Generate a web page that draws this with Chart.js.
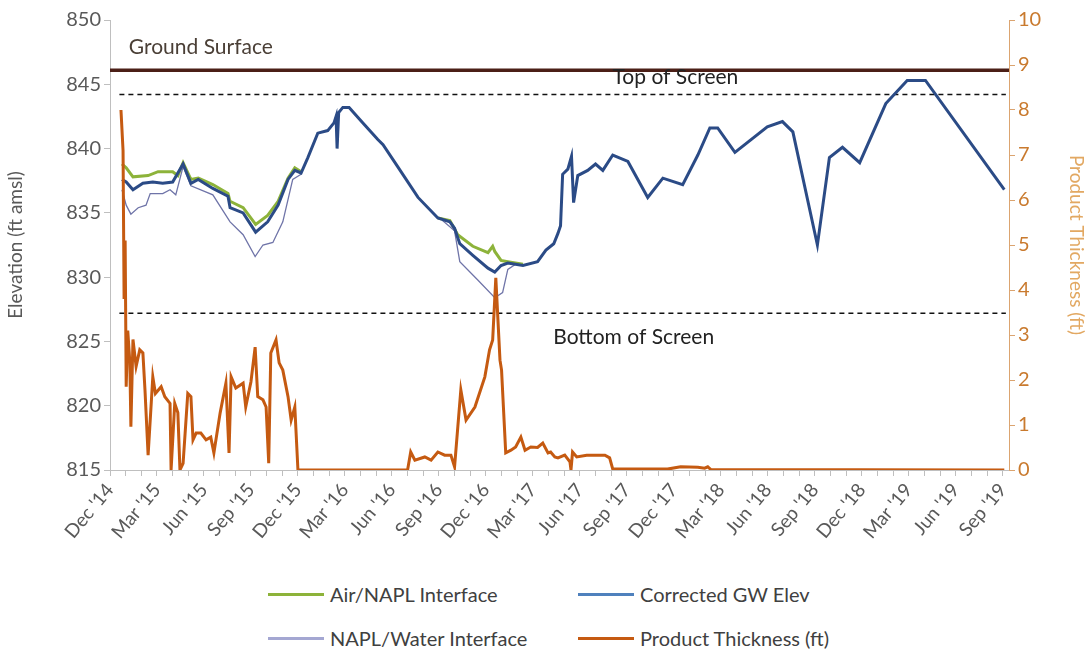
<!DOCTYPE html>
<html>
<head>
<meta charset="utf-8">
<script src="https://cdn.jsdelivr.net/npm/chart.js@4.4.1/dist/chart.umd.min.js"></script>
<style>
	body { margin: 0; background: #fff; }
	#quadro { position: relative; width: 1092px; height: 658px; font-family: Lato, "Open Sans", sans-serif; }
	#legenda { position: absolute; left: 268px; top: 572px; display: grid; grid-template-columns: 310px auto; grid-auto-rows: 44px; color: #404040; font-size: 20px; }
	#legenda div { display: flex; align-items: center; white-space: nowrap; }
	#legenda span.linha { display: inline-block; width: 56px; height: 3px; margin-right: 6px; }
</style>
</head>
<body>
<div id="quadro">
	<canvas id="graficoPocoNapl" width="1092" height="565"></canvas>
	<div id="legenda"></div>
</div>
<script>
// rotulos do eixo x (a cada 3 meses, a partir de dez/2014)
var rotulosX = ["Dec '14", "Mar '15", "Jun '15", "Sep '15", "Dec '15", "Mar '16", "Jun '16", "Sep '16", "Dec '16", "Mar '17",
	"Jun '17", "Sep '17", "Dec '17", "Mar '18", "Jun '18", "Sep '18", "Dec '18", "Mar '19", "Jun '19", "Sep '19"];

// niveis de referencia (ft amsl)
var superficieTerreno = 846.1;
var topoFiltro = 844.2;
var baseFiltro = 827.2;

// Corrected GW Elev
var gwDatas = ['2014-12-24', '2015-01-02', '2015-01-15', '2015-02-04', '2015-02-23', '2015-03-12', '2015-04-01', '2015-04-21',
	'2015-05-06', '2015-05-20', '2015-06-18', '2015-07-17', '2015-07-21', '2015-08-16', '2015-09-10', '2015-10-03', '2015-10-23',
	'2015-11-12', '2015-11-25', '2015-12-07', '2015-12-20', '2016-01-09', '2016-01-28', '2016-02-10', '2016-02-14', '2016-02-16',
	'2016-02-19', '2016-02-27', '2016-03-09', '2016-04-05', '2016-05-04', '2016-05-14', '2016-06-12', '2016-07-21', '2016-08-29',
	'2016-09-22', '2016-10-01', '2016-10-11', '2016-11-06', '2016-12-05', '2016-12-18', '2016-12-30', '2017-01-13', '2017-02-12',
	'2017-03-10', '2017-03-26', '2017-04-11', '2017-04-19', '2017-04-24', '2017-04-28', '2017-05-08', '2017-05-15', '2017-05-19',
	'2017-05-27', '2017-06-16', '2017-07-01', '2017-07-15', '2017-08-04', '2017-09-03', '2017-10-11', '2017-11-10', '2017-12-18',
	'2018-01-17', '2018-02-10', '2018-02-25', '2018-03-28', '2018-05-30', '2018-06-29', '2018-07-19', '2018-09-06', '2018-09-29',
	'2018-10-24', '2018-11-27', '2019-01-17', '2019-02-28', '2019-04-03', '2019-09-04'];
var gwElev = [837.6, 837.4, 836.8, 837.3, 837.4, 837.3, 837.4, 838.8,
	837.3, 837.6, 836.9, 836.3, 835.4, 835.0, 833.5, 834.3, 835.6,
	837.6, 838.3, 838.1, 839.3, 841.2, 841.4, 842.0, 842.5, 840.0,
	842.8, 843.2, 843.2, 842.0, 840.7, 840.3, 838.6, 836.2, 834.6,
	834.3, 833.8, 832.6, 831.7, 830.7, 830.4, 830.9, 831.1, 830.9,
	831.2, 832.1, 832.6, 833.4, 834.0, 838.0, 838.4, 839.4, 835.8,
	837.9, 838.3, 838.8, 838.3, 839.5, 839.0, 836.2, 837.7, 837.2,
	839.5, 841.6, 841.6, 839.7, 841.7, 842.1, 841.3, 832.5, 839.3,
	840.1, 838.9, 843.5, 845.3, 845.3, 836.8];

// Air/NAPL Interface (null = sem produto)
var arDatas = ['2014-12-24', '2015-01-02', '2015-01-15', '2015-02-14', '2015-03-03', '2015-04-01', '2015-04-11', '2015-04-21',
	'2015-05-06', '2015-05-20', '2015-06-18', '2015-07-17', '2015-07-21', '2015-08-16', '2015-09-10', '2015-10-03', '2015-10-23',
	'2015-11-12', '2015-11-25', '2015-12-07', '2016-03-01', '2016-08-29', '2016-09-22', '2016-10-07', '2016-11-06', '2016-12-05',
	'2016-12-14', '2016-12-18', '2016-12-30', '2017-01-13', '2017-02-12'];
var arElev = [838.8, 838.5, 837.8, 837.9, 838.2, 838.2, 837.9, 838.9,
	837.6, 837.7, 837.2, 836.5, 835.9, 835.4, 834.1, 834.8, 835.9,
	837.7, 838.5, 838.2, null, 834.6, 834.4, 833.3, 832.4, 831.9,
	832.4, 832.0, 831.3, 831.2, 831.0];

// NAPL/Water Interface
var aguaDatas = ['2014-12-24', '2015-01-02', '2015-01-11', '2015-01-25', '2015-02-10', '2015-02-18', '2015-03-12', '2015-03-26',
	'2015-04-07', '2015-04-21', '2015-05-06', '2015-06-18', '2015-07-21', '2015-08-16', '2015-09-09', '2015-09-24', '2015-10-13',
	'2015-11-02', '2015-11-21', '2015-12-07', '2016-03-01', '2016-09-08', '2016-10-01', '2016-10-11', '2016-11-15', '2016-12-18',
	'2017-01-03', '2017-01-13', '2017-01-28'];
var aguaElev = [836.8, 835.6, 834.9, 835.4, 835.6, 836.5, 836.5, 836.8,
	836.4, 838.6, 837.1, 836.4, 834.3, 833.3, 831.6, 832.5, 832.7,
	834.3, 837.6, 838.0, null, 834.4, 833.6, 831.2, 829.8, 828.4,
	828.8, 830.6, 831.0];

// Product Thickness (ft)
var ptDatas = ['2014-12-22', '2014-12-26', '2014-12-28', '2014-12-30', '2015-01-02', '2015-01-05', '2015-01-09', '2015-01-11',
	'2015-01-15', '2015-01-21', '2015-01-28', '2015-02-04', '2015-02-08', '2015-02-14', '2015-02-23', '2015-02-28', '2015-03-09',
	'2015-03-16', '2015-03-26', '2015-03-28', '2015-04-05', '2015-04-11', '2015-04-15', '2015-04-21', '2015-04-30', '2015-05-06',
	'2015-05-10', '2015-05-16', '2015-05-25', '2015-06-05', '2015-06-14', '2015-06-20', '2015-07-02', '2015-07-13', '2015-07-19',
	'2015-07-23', '2015-08-02', '2015-08-16', '2015-08-21', '2015-08-31', '2015-09-09', '2015-09-14', '2015-09-24', '2015-09-30',
	'2015-10-05', '2015-10-09', '2015-10-19', '2015-10-25', '2015-11-02', '2015-11-12', '2015-11-18', '2015-11-25', '2015-12-01',
	'2016-07-01', '2016-07-07', '2016-07-15', '2016-08-04', '2016-08-16', '2016-08-29', '2016-09-12', '2016-09-24', '2016-10-01',
	'2016-10-13', '2016-10-23', '2016-11-10', '2016-11-29', '2016-12-08', '2016-12-14', '2016-12-20', '2016-12-28', '2017-01-01',
	'2017-01-09', '2017-01-19', '2017-01-28', '2017-02-08', '2017-02-16', '2017-02-27', '2017-03-10', '2017-03-20', '2017-03-30',
	'2017-04-05', '2017-04-13', '2017-04-19', '2017-05-02', '2017-05-12', '2017-05-14', '2017-05-17', '2017-05-25', '2017-06-14',
	'2017-07-19', '2017-07-28', '2017-08-04', '2017-11-19', '2017-12-14', '2018-01-17', '2018-01-30', '2018-02-06', '2018-02-12',
	'2019-09-04'];
var ptEspessura = [8.0, 7.1, 3.8, 5.1, 1.85, 3.1, 2.4, 0.96,
	2.9, 2.3, 2.67, 2.6, 1.78, 0.33, 2.07, 1.7, 1.85,
	1.63, 1.48, 0.0, 1.48, 1.27, 0.0, 0.15, 1.7, 1.63,
	0.67, 0.82, 0.82, 0.67, 0.73, 0.38, 1.27, 1.93, 0.38,
	2.07, 1.82, 1.93, 1.4, 1.96, 2.73, 1.63, 1.56, 1.4,
	0.15, 2.6, 2.89, 2.38, 2.22, 1.63, 1.11, 1.4, 0.0,
	0.0, 0.4, 0.22, 0.29, 0.22, 0.4, 0.33, 0.33, 0.07,
	1.78, 1.11, 1.4, 2.07, 2.67, 2.89, 4.27, 2.44, 2.22,
	0.38, 0.44, 0.51, 0.73, 0.44, 0.51, 0.5, 0.6, 0.38,
	0.4, 0.29, 0.27, 0.33, 0.18, 0.0, 0.4, 0.29, 0.33,
	0.33, 0.27, 0.02, 0.02, 0.07, 0.06, 0.04, 0.07, 0.01,
	0.0];

// meses desde 1 dez 2014
function emMeses(data) {
	var p = data.split('-');
	return (Number(p[0]) - 2014) * 12 + (Number(p[1]) - 12) + (Number(p[2]) - 1) / 30;
}

function montarPontos(datas, valores) {
	return datas.map(function(d, i) {
		return { x: emMeses(d), y: valores[i] };
	});
}

var fimEixoX = 57.4;
var corTexto = '#595959';
var fonteBase = 'Lato, "Open Sans", sans-serif';

function linhaReferencia(nivel, cor, largura, traco, inicio, fim) {
	return {
		label: '', data: [{ x: inicio, y: nivel }, { x: fim, y: nivel }], yAxisID: 'y',
		borderColor: cor, borderWidth: largura, borderDash: traco, pointRadius: 0, order: 5
	};
}

var rotulosTexto = {
	id: 'rotulosTexto',
	afterDatasetsDraw: function(chart) {
		var ctx = chart.ctx, ex = chart.scales.x, ey = chart.scales.y;
		ctx.save();
		ctx.font = '21px ' + fonteBase;
		ctx.textBaseline = 'middle';
		ctx.textAlign = 'left';
		ctx.fillStyle = '#4a3f36';
		ctx.fillText('Ground Surface', ex.getPixelForValue(1.2), ey.getPixelForValue(superficieTerreno) - 23);
		ctx.fillStyle = '#222';
		ctx.textAlign = 'center';
		ctx.fillText('Top of Screen', ex.getPixelForValue(36.1), ey.getPixelForValue(topoFiltro) - 17);
		ctx.textAlign = 'left';
		ctx.fillText('Bottom of Screen', ex.getPixelForValue(28.3), ey.getPixelForValue(baseFiltro) + 24);
		ctx.restore();
	}
};

var ctx = document.getElementById('graficoPocoNapl').getContext('2d');
var grafico = new Chart(ctx, {
	type: 'line',
	data: {
		datasets: [{
			label: 'Product Thickness (ft)',
			data: montarPontos(ptDatas, ptEspessura),
			yAxisID: 'y2', borderColor: '#c55a11', borderWidth: 3, pointRadius: 0, order: 0
		}, {
			label: 'Corrected GW Elev',
			data: montarPontos(gwDatas, gwElev),
			yAxisID: 'y', borderColor: '#2b4b86', borderWidth: 3, pointRadius: 0, order: 1
		}, {
			label: 'NAPL/Water Interface',
			data: montarPontos(aguaDatas, aguaElev),
			yAxisID: 'y', borderColor: '#6f74a8', borderWidth: 1.3, pointRadius: 0, order: 2
		}, {
			label: 'Air/NAPL Interface',
			data: montarPontos(arDatas, arElev),
			yAxisID: 'y', borderColor: '#8db33a', borderWidth: 3, pointRadius: 0, order: 3
		},
		linhaReferencia(superficieTerreno, '#4b1f17', 3.5, [], 0, fimEixoX),
		linhaReferencia(topoFiltro, '#111', 1.5, [5, 4], 0.6, 57.2),
		linhaReferencia(baseFiltro, '#111', 1.5, [5, 4], 0.6, 57.2)]
	},
	options: {
		responsive: false,
		animation: false,
		devicePixelRatio: 1,
		spanGaps: false,
		layout: { padding: { top: 20 } },
		plugins: { legend: { display: false }, tooltip: { enabled: false } },
		scales: {
			x: {
				type: 'linear', min: 0, max: fimEixoX,
				afterBuildTicks: function(eixo) {
					var marcas = [];
					for (var m = 0; m <= 57; m++) marcas.push({ value: m });
					eixo.ticks = marcas;
				},
				afterFit: function(eixo) { eixo.height = 95; },
				ticks: {
					autoSkip: false, minRotation: 50, maxRotation: 50, color: corTexto,
					font: { family: fonteBase, size: 19 },
					callback: function(v) { return v % 3 === 0 ? rotulosX[v / 3] : ''; }
				},
				grid: { drawOnChartArea: false, tickLength: 6, color: '#bfbfbf' },
				border: { color: '#bfbfbf' }
			},
			y: {
				position: 'left', min: 815, max: 850,
				afterFit: function(eixo) { eixo.width = 110; },
				ticks: { stepSize: 5, color: corTexto, font: { family: fonteBase, size: 20 } },
				grid: { drawOnChartArea: false, tickLength: 6, color: '#bfbfbf' },
				border: { color: '#bfbfbf' },
				title: { display: true, text: 'Elevation (ft amsl)', color: corTexto, font: { family: fonteBase, size: 19 } }
			},
			y2: {
				position: 'right', min: 0, max: 10,
				afterFit: function(eixo) { eixo.width = 83; },
				ticks: { stepSize: 1, color: '#c97a2e', font: { family: fonteBase, size: 20 } },
				grid: { drawOnChartArea: false, tickLength: 6, color: '#dba470' },
				border: { color: '#dba470' },
				title: { display: true, text: 'Product Thickness (ft)', color: '#e2a862', font: { family: fonteBase, size: 19 } }
			}
		}
	},
	plugins: [rotulosTexto]
});

// legenda em duas colunas, como no original
var itensLegenda = [
	{ texto: 'Air/NAPL Interface', cor: '#8db33a' },
	{ texto: 'Corrected GW Elev', cor: '#4f81bd' },
	{ texto: 'NAPL/Water Interface', cor: '#a4a7d2' },
	{ texto: 'Product Thickness (ft)', cor: '#c55a11' }
];
var legenda = document.getElementById('legenda');
itensLegenda.forEach(function(item) {
	var el = document.createElement('div');
	el.innerHTML = '<span class="linha" style="background:' + item.cor + '"></span>' + item.texto;
	legenda.appendChild(el);
});
</script>
</body>
</html>
